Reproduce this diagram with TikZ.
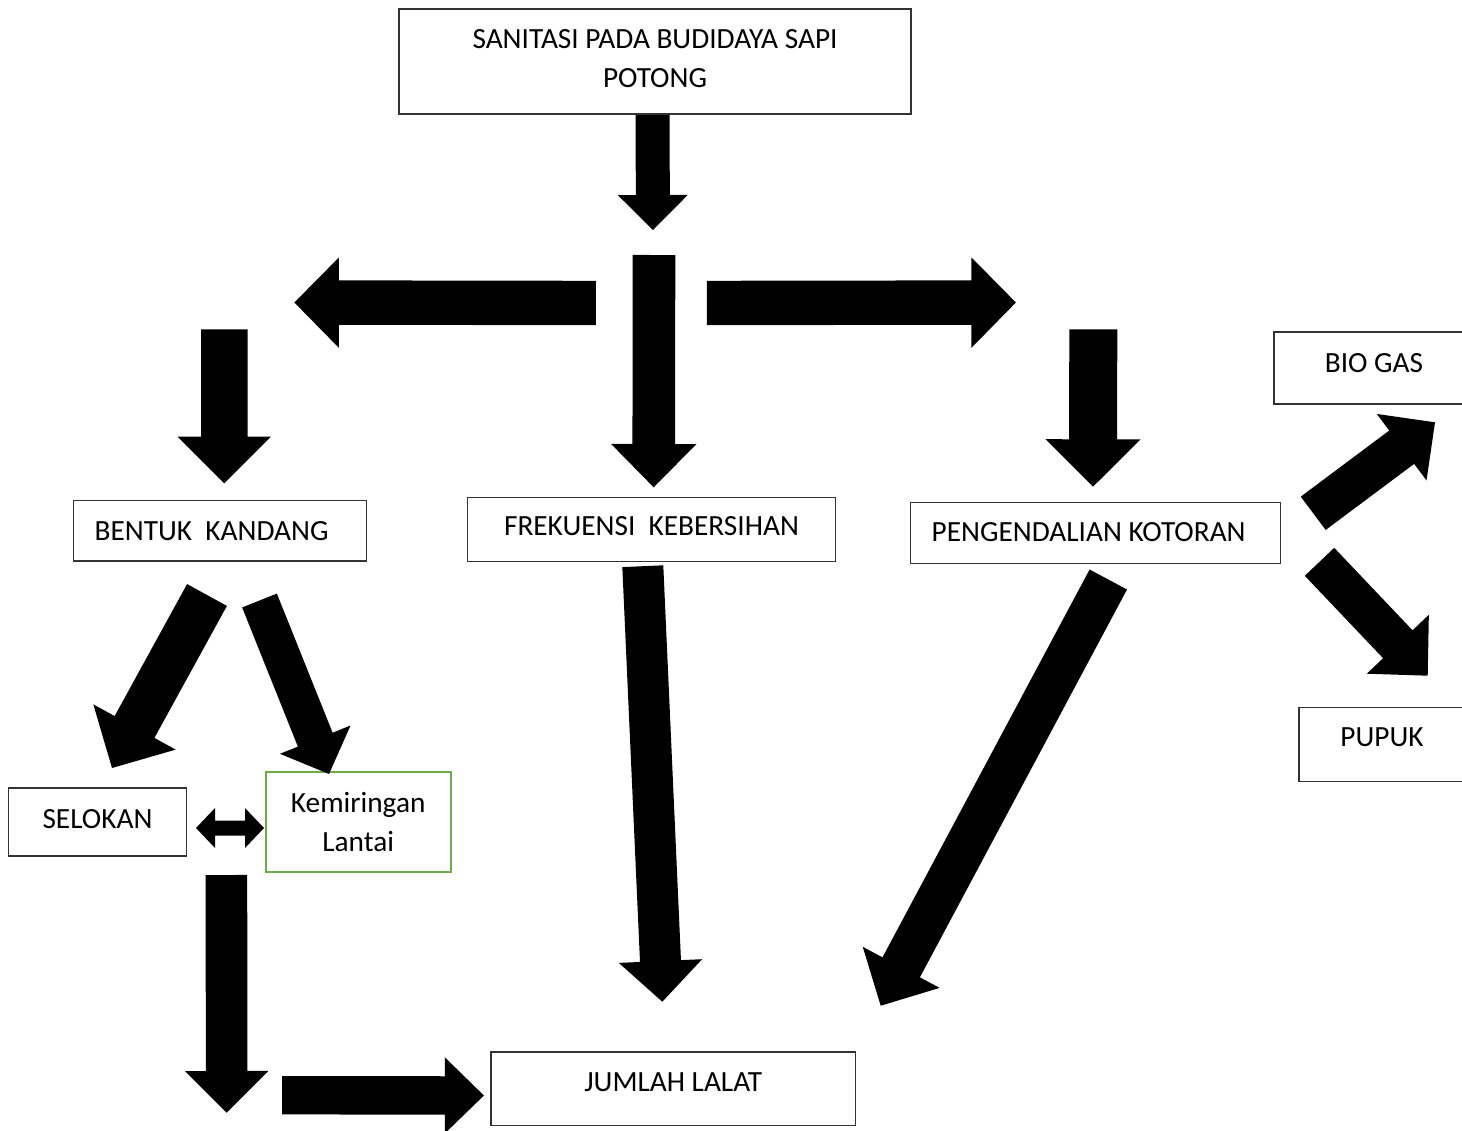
\documentclass[tikz,border=0pt]{standalone}
\usepackage{fontspec}
\setmainfont{Carlito}
\usetikzlibrary{calc}

\definecolor{kgreen}{HTML}{70AD47}

\tikzset{
  box/.style={draw=black!80, line width=1.3pt, inner sep=0pt, font=\fontsize{29.3}{39}\selectfont},
  greenbox/.style={box, draw=kgreen, line width=2.2pt},
  blockarrow/.style={fill=black},
}

% block arrow: tail, tip, half shaft, half head, head length
\newcommand\barrow[5]{%
  \coordinate (hb) at ($(#2)!#5!(#1)$);
  \fill[blockarrow] ($(#1)!#3!90:(#2)$) -- ($(hb)!#3!90:(#2)$) -- ($(hb)!#4!90:(#2)$) -- (#2)
    -- ($(hb)!#4!-90:(#2)$) -- ($(hb)!#3!-90:(#2)$) -- ($(#1)!#3!-90:(#2)$) -- cycle;}

\begin{document}
\begin{tikzpicture}[x=1pt,y=-1pt]
    \useasboundingbox (0,0) rectangle (1462,1130);
    \clip (0,0) rectangle (1462,1130);

    % boxes
    \node[box, minimum width=512pt, minimum height=105pt, align=center, text depth=6.4pt] (judul) at (655,61.5) {SANITASI PADA BUDIDAYA SAPI\\POTONG};
    \node[box, minimum width=292.7pt, minimum height=60.3pt, text width=250.7pt, align=flush left] (bentuk) at (220,530.8) {BENTUK\ \ KANDANG};
    \node[box, minimum width=368.4pt, minimum height=64.4pt, text depth=6.4pt] (frekuensi) at (651.5,529.5) {FREKUENSI\ \ KEBERSIHAN};
    \node[box, minimum width=370.4pt, minimum height=61.4pt, text width=327.6pt, align=flush left, text depth=2.4pt] (kotoran) at (1095.5,533) {PENGENDALIAN KOTORAN};
    \node[box, minimum width=200pt, minimum height=72pt, text depth=11pt] (biogas) at (1374,368) {BIO GAS};
    \node[box, minimum width=166pt, minimum height=74pt, text depth=14.4pt] (pupuk) at (1382,744.7) {PUPUK};
    \node[box, minimum width=178pt, minimum height=68pt, text depth=7pt] (selokan) at (97.5,822) {SELOKAN};
    \node[greenbox, minimum width=185pt, minimum height=100pt, align=center] (lantai) at (358.2,821.7) {Kemiringan\\Lantai};
    \node[box, minimum width=364.6pt, minimum height=73.7pt, text depth=13pt] (lalat) at (673.3,1088.8) {JUMLAH LALAT};

    % arrow ends
    \coordinate (a1) at (652.5,115);   \coordinate (b1) at (653,230);
    \coordinate (a2) at (595.8,303);   \coordinate (b2) at (294.4,302.5);
    \coordinate (a3) at (654,255);     \coordinate (b3) at (653.7,487.3);
    \coordinate (a4) at (706.8,303);   \coordinate (b4) at (1015.9,302.5);
    \coordinate (a5) at (224.3,329.3); \coordinate (b5) at (224.3,483.3);
    \coordinate (a6) at (1093.3,329.3);\coordinate (b6) at (1093,486.7);
    \coordinate (a7) at (207,595);     \coordinate (b7) at (112,768);
    \coordinate (a8) at (259.5,600.5); \coordinate (b8) at (329,774);
    \coordinate (a9) at (226.4,875);   \coordinate (b9) at (226.7,1112.7);
    \coordinate (a10) at (282.2,1095.2); \coordinate (b10) at (483.9,1095.5);
    \coordinate (a11) at (642.8,566.2);  \coordinate (b11) at (662.3,1001.7);
    \coordinate (a12) at (1108.3,579.5); \coordinate (b12) at (880.7,1005.7);
    \coordinate (a13) at (1313.2,513.3); \coordinate (b13) at (1435,422.3);
    \coordinate (a14) at (1319.5,561.8); \coordinate (b14) at (1427.7,675.7);

    \barrow{a1}{b1}{17pt}{35pt}{35pt}
    \barrow{a2}{b2}{22.2pt}{45.2pt}{44.5pt}
    \barrow{a3}{b3}{21.3pt}{42.7pt}{43.3pt}
    \barrow{a4}{b4}{22.2pt}{45.2pt}{44.5pt}
    \barrow{a5}{b5}{23.3pt}{46.8pt}{46.7pt}
    \barrow{a6}{b6}{24pt}{47.5pt}{47.4pt}
    \barrow{a7}{b7}{22.7pt}{47pt}{46.8pt}
    \barrow{a8}{b8}{18.7pt}{38pt}{37pt}
    \barrow{a9}{b9}{20.8pt}{41.7pt}{41.7pt}
    \barrow{a10}{b10}{19.2pt}{38pt}{39pt}
    \barrow{a11}{b11}{20.5pt}{41.7pt}{40.7pt}
    \barrow{a12}{b12}{21.2pt}{43.6pt}{43.5pt}
    \barrow{a13}{b13}{20.8pt}{41.5pt}{41.6pt}
    \barrow{a14}{b14}{20.3pt}{42.8pt}{43.4pt}

    % selokan <-> kemiringan
    \fill[blockarrow] (196,828) -- (215,808) -- (215,820.5) -- (245,820.5) -- (245,808) -- (264,828)
        -- (245,848) -- (245,835.5) -- (215,835.5) -- (215,848) -- cycle;
\end{tikzpicture}
\end{document}
